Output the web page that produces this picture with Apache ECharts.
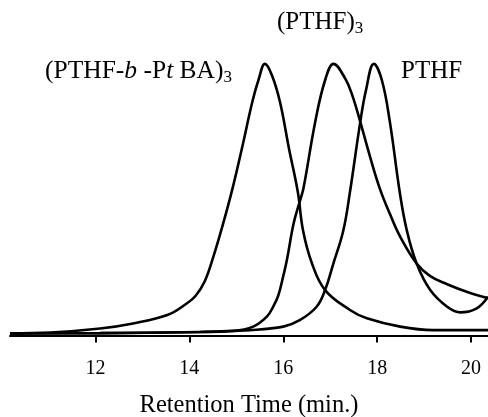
<!DOCTYPE html>
<html>
<head>
<meta charset="utf-8">
<script src="https://cdn.jsdelivr.net/npm/echarts@6/dist/echarts.min.js"></script>
<style>
  html, body { margin: 0; padding: 0; background: #fff; }
  #chart { width: 488px; height: 417px; }
</style>
</head>
<body>
<div id="chart"></div>
<script>
// retention time (min.) and normalised detector signal
const blockX = [10.18, 11.04, 12.1, 12.8, 13.53, 13.95, 14.13, 14.32, 14.51, 14.72, 14.91, 15.12, 15.34, 15.47, 15.61,
  15.76, 15.93, 16.12, 16.31, 16.42, 16.61, 16.89, 17.42, 17.78, 18.49, 19.19, 20.36]
const blockY = [-0.3, 0, 1.5, 3.4, 6.5, 10.9, 13.6, 18.8, 28.2, 40.6, 53.0, 68.6, 85.8, 93.9, 100,
  95.7, 85.8, 68.6, 52.3, 38.1, 25.8, 15.8, 8.4, 5.3, 2.2, 0.9, 0.9]

const starX = [10.18, 12.1, 14.23, 14.93, 15.36, 15.65, 15.78, 15.89, 15.99, 16.08, 16.22, 16.35, 16.43, 16.68, 16.89, 17.07,
  17.32, 17.47, 17.64, 17.85, 18.06, 18.27, 18.48, 18.84, 19.13, 19.49, 19.92, 20.36]
const starY = [-0.3, -0.2, 0.2, 0.6, 2.2, 5.9, 9.5, 13.6, 20.3, 27.3, 40.6, 48.7, 53.7, 78.4, 93.9, 100,
  94.5, 88.3, 78.4, 65.3, 53.4, 44.2, 36.0, 25.7, 21.0, 18.0, 15.1, 12.8]

const linearX = [10.18, 12.1, 14.23, 15.29, 16.0, 16.35, 16.71, 16.89, 17.06, 17.28, 17.42, 17.64, 17.76, 17.93,
  18.1, 18.27, 18.48, 18.63, 18.84, 19.13, 19.49, 19.77, 20.12, 20.36]
const linearY = [-0.3, -0.2, 0.2, 0.9, 2.2, 4.6, 9.6, 15.8, 25.3, 38.1, 52.3, 78.4, 90.1, 100,
  93.9, 78.4, 52.3, 38.1, 25.7, 15.8, 9.6, 7.5, 9.0, 13.3]

const tickValues = [12, 14, 16, 18, 20]

const serif = '"Liberation Serif", "DejaVu Serif", serif'

function pairs(xs, ys) {
  return xs.map((x, i) => [x, ys[i]])
}

function trace(name, xs, ys) {
  return {
    name: name,
    type: 'line',
    smooth: 0.4,
    showSymbol: false,
    silent: true,
    lineStyle: { color: '#000', width: 2.6 },
    data: pairs(xs, ys)
  }
}

let myChart = echarts.init(document.getElementById('chart'))
let option = {
  animation: false,
  grid: { left: 10, right: 0, top: 37, bottom: 81.5, containLabel: false, outerBoundsMode: 'none' },
  xAxis: {
    type: 'value',
    min: 10.18,
    max: 20.36,
    name: 'Retention Time (min.)',
    nameLocation: 'middle',
    nameGap: 58,
    nameTextStyle: { fontFamily: serif, fontSize: 24.5, color: '#000' },
    axisLine: { onZero: false, lineStyle: { color: '#000', width: 2 } },
    axisTick: { inside: false, length: 7, customValues: tickValues, lineStyle: { color: '#000', width: 2 } },
    axisLabel: { customValues: tickValues, margin: 23, fontFamily: serif, fontSize: 20, color: '#000' },
    splitLine: { show: false }
  },
  yAxis: {
    type: 'value',
    min: -1.1,
    max: 110,
    show: false
  },
  series: [
    trace('(PTHF-b-PtBA)3', blockX, blockY),
    trace('(PTHF)3', starX, starY),
    trace('PTHF', linearX, linearY)
  ],
  graphic: [
    {
      type: 'text',
      x: 277,
      y: 22,
      style: {
        text: '{m|(PTHF)}{s|3}',
        verticalAlign: 'middle',
        rich: {
          m: { fontFamily: serif, fontSize: 25, lineHeight: 30, fill: '#000' },
          s: { fontFamily: serif, fontSize: 17, lineHeight: 20, verticalAlign: 'bottom', fill: '#000' }
        }
      }
    },
    {
      type: 'text',
      x: 45,
      y: 71.5,
      style: {
        text: '{m|(PTHF-}{i|b}{m| -P}{i|t}{m| BA)}{s|3}',
        verticalAlign: 'middle',
        rich: {
          m: { fontFamily: serif, fontSize: 25.5, lineHeight: 30, fill: '#000' },
          i: { fontFamily: serif, fontSize: 25.5, lineHeight: 30, fontStyle: 'italic', fill: '#000' },
          s: { fontFamily: serif, fontSize: 17, lineHeight: 20, verticalAlign: 'bottom', fill: '#000' }
        }
      }
    },
    {
      type: 'text',
      x: 401,
      y: 71,
      style: {
        text: 'PTHF',
        verticalAlign: 'middle',
        fontFamily: serif,
        fontSize: 25,
        fill: '#000'
      }
    }
  ]
}
myChart.setOption(option)
</script>
</body>
</html>
